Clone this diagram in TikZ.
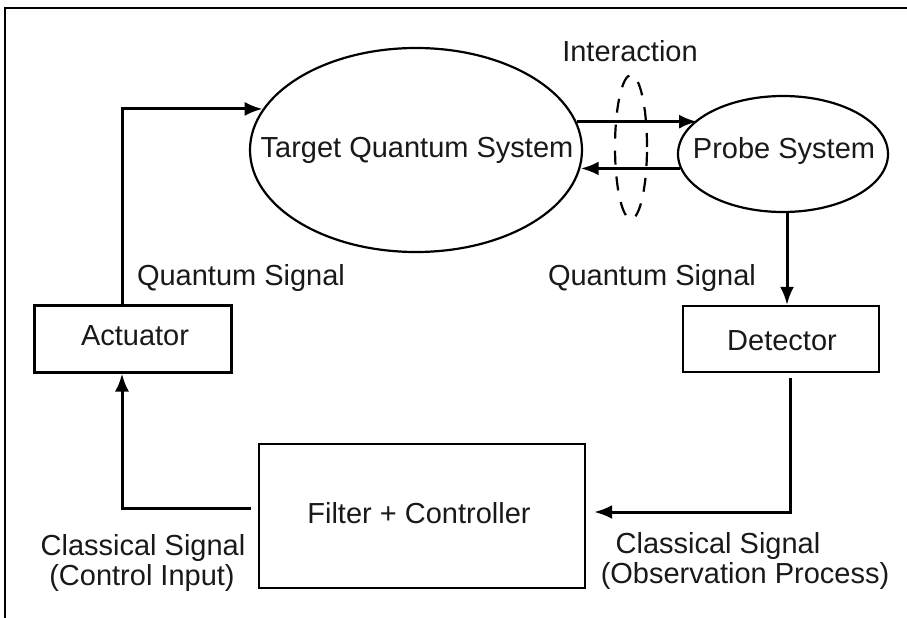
\documentclass[tikz,border=0pt]{standalone}
\usepackage{fontspec}
\setmainfont{Liberation Sans}
\usetikzlibrary{shapes.geometric,arrows.meta}
\begin{document}
\begin{tikzpicture}[x=1pt,y=-1pt,
  every node/.style={font=\fontsize{29}{34}\selectfont, text=black!90},
  ell/.style={draw, ellipse, line width=2.2pt, inner sep=0pt},
  boxn/.style={draw, rectangle, inner sep=0pt},
  txt/.style={anchor=base, inner sep=0pt},
  arr/.style={line width=3pt, -{Latex[length=18pt,width=14pt]}}]
\useasboundingbox (0,0) rectangle (907,618);
% frame
\draw[line width=2.4pt] (5,618) -- (5,8) -- (907,8);
% shapes
\node[ell, minimum width=332pt, minimum height=204pt] (tqs) at (416,150) {};
\node[ell, minimum width=210pt, minimum height=116pt] (pq) at (783,154) {};
\node[draw, ellipse, line width=2.2pt, dash pattern=on 14pt off 12pt, inner sep=0pt,
      minimum width=32pt, minimum height=144pt] (intr) at (631,147) {};
\node[boxn, line width=3pt, minimum width=197pt, minimum height=67pt] (act) at (132.5,338.5) {};
\node[boxn, line width=2.2pt, minimum width=196pt, minimum height=66pt] (det) at (781,339) {};
\node[boxn, line width=2.2pt, minimum width=326pt, minimum height=144pt] (fc) at (422,516) {};
% texts
\node[txt] (tTqs) at (417,157) {Target Quantum System};
\node[txt] (tPq) at (784,158) {Probe System};
\node[txt] (tInt) at (630,62) {Interaction};
\node[txt] (tQs1) at (241,285) {Quantum Signal};
\node[txt] (tQs2) at (652,285) {Quantum Signal};
\node[txt] (tAct) at (135,345) {Actuator};
\node[txt] (tDet) at (782,350) {Detector};
\node[txt] (tFc) at (419,523) {Filter + Controller};
\node[txt] (tCs1) at (143,555) {Classical Signal};
\node[txt] (tCi) at (142,585) {(Control Input)};
\node[txt] (tCs2) at (718,553) {Classical Signal};
\node[txt] (tOp) at (745,583) {(Observation Process)};
% connectors
\draw[arr] ([xshift=-10.5pt]act.north) |- (tqs.165.7);
\draw[arr] (tqs.10.7) -- (tqs.10.7 -| pq.158.2);
\draw[arr] (pq.188.4) -- (pq.188.4 -| tqs.-6.6);
\draw[arr] ([xshift=4pt]pq.south) -- ([xshift=4pt]pq.south |- det.north);
\draw[arr] ([xshift=9pt,yshift=-5pt]det.south) |- ([xshift=8pt,yshift=4pt]fc.east);
\draw[arr] ([xshift=-7pt,yshift=8pt]fc.west) -| ([xshift=-10.5pt]act.south);
\end{tikzpicture}
\end{document}
